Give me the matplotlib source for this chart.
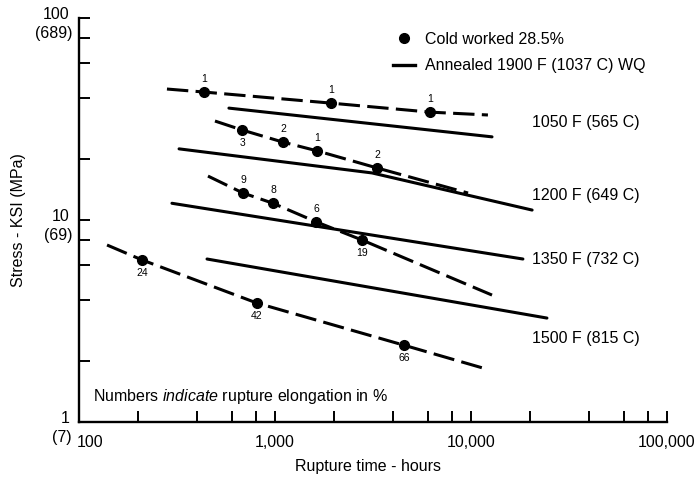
import numpy as np
import matplotlib.pyplot as plt
from matplotlib.lines import Line2D
from matplotlib.ticker import FixedLocator, NullFormatter

plt.rcParams['font.family'] = ['Liberation Sans', 'DejaVu Sans']
plt.rcParams['mathtext.fontset'] = 'custom'
plt.rcParams['mathtext.rm'] = 'Liberation Sans'
plt.rcParams['mathtext.it'] = 'Liberation Sans:italic'

# cold worked 28.5% : test points (hours, ksi, elongation %)
cw1050_hrs = [434, 1930, 6180]
cw1050_ksi = [43.0, 37.9, 34.2]
cw1050_elong = ['1', '1', '1']
cw1050_ends = ([281, 12200], [44.5, 33.1])

cw1200_hrs = [679, 1098, 1638, 3315]
cw1200_ksi = [27.9, 24.3, 22.0, 18.1]
cw1200_elong = ['3', '2', '1', '2']
cw1200_ends = ([494, 9660], [30.9, 13.6])

cw1350_hrs = [687, 977, 1619, 2780]
cw1350_ksi = [13.6, 12.1, 9.8, 7.96]
cw1350_elong = ['9', '8', '6', '19']
cw1350_ends = ([455, 12800], [16.5, 4.25])

cw1500_hrs = [210, 809, 4550]
cw1500_ksi = [6.34, 3.88, 2.40]
cw1500_elong = ['24', '42', '66']
cw1500_ends = ([139, 11500], [7.52, 1.85])

# annealed 1900 F (1037 C) WQ curves
an1050_hrs = [582, 12800]
an1050_ksi = [35.8, 25.8]
an1200_hrs = [324, 3126, 20500]
an1200_ksi = [22.5, 17.1, 11.2]
an1350_hrs = [298, 18400]
an1350_ksi = [12.1, 6.41]
an1500_hrs = [450, 24400]
an1500_ksi = [6.41, 3.27]

temps = ['1050 F (565 C)', '1200 F (649 C)', '1350 F (732 C)', '1500 F (815 C)']
temp_ksi = [30.5, 13.2, 6.34, 2.58]

fs = 11.5

fig = plt.figure(figsize=(7, 4.78), dpi=100)
ax = fig.add_axes([79/700, 1-422/478, 588/700, 404/478])
ax.set_xscale('log')
ax.set_yscale('log')
ax.set_xlim(100, 100000)
ax.set_ylim(1, 100)

lw = 2.2
cw_sets = [
    (cw1050_hrs, cw1050_ksi, cw1050_elong, cw1050_ends, [1, 1, 1]),
    (cw1200_hrs, cw1200_ksi, cw1200_elong, cw1200_ends, [-1, 1, 1, 1]),
    (cw1350_hrs, cw1350_ksi, cw1350_elong, cw1350_ends, [1, 1, 1, -1]),
    (cw1500_hrs, cw1500_ksi, cw1500_elong, cw1500_ends, [-1, -1, -1]),
]
for hrs, ksi, el, ends, side in cw_sets:
    lx = [ends[0][0]] + hrs + [ends[0][1]]
    ly = [ends[1][0]] + ksi + [ends[1][1]]
    ax.plot(lx, ly, color='k', lw=lw, dashes=(7, 2.4), solid_capstyle='butt')
    ax.plot(hrs, ksi, 'o', color='k', ms=7)
    for x, y, t, s in zip(hrs, ksi, el, side):
        ax.annotate(t, (x, y), xytext=(0, 9.5 * s), textcoords='offset points',
                    ha='center', va='center', fontsize=7.5)

for hrs, ksi in [(an1050_hrs, an1050_ksi), (an1200_hrs, an1200_ksi),
                 (an1350_hrs, an1350_ksi), (an1500_hrs, an1500_ksi)]:
    ax.plot(hrs, ksi, color='k', lw=lw, solid_capstyle='round')

for t, y in zip(temps, temp_ksi):
    ax.text(20500, y, t, fontsize=fs, ha='left', va='center')

ax.text(118, 1.34, r'Numbers $\it{indicate}$ rupture elongation in %',
        fontsize=fs, ha='left', va='center')

# axes styling
for s in ['top', 'right']:
    ax.spines[s].set_visible(False)
for s in ['left', 'bottom']:
    ax.spines[s].set_linewidth(1.7)
ax.xaxis.set_major_locator(FixedLocator([100, 1000, 10000, 100000]))
ax.xaxis.set_minor_locator(FixedLocator([m * d for d in [100, 1000, 10000] for m in [2, 4, 6, 8]]))
ax.yaxis.set_major_locator(FixedLocator([1, 10, 100]))
ax.yaxis.set_minor_locator(FixedLocator([m * d for d in [1, 10] for m in [2, 4, 6, 8]]))
ax.xaxis.set_minor_formatter(NullFormatter())
ax.yaxis.set_minor_formatter(NullFormatter())
ax.tick_params(which='both', direction='in', length=8, width=1.4)
ax.set_xticklabels([])
ax.set_yticklabels([])

xt = ax.get_xaxis_transform()
for v, lab, dx in [(100, '100', 8), (1000, '1,000', 0), (10000, '10,000', 0), (100000, '100,000', 0)]:
    ax.annotate(lab, (v, 0), xycoords=xt, xytext=(dx, -15), textcoords='offset points',
                ha='center', va='center', fontsize=fs, annotation_clip=False)

yt = ax.get_yaxis_transform()
for v, top, bot in [(100, '100', '(689)'), (10, '10', '(69)'), (1, '1', '(7)')]:
    ax.annotate(top, (0, v), xycoords=yt, xytext=(-7, 2.5), textcoords='offset points',
                ha='right', va='center', fontsize=fs, annotation_clip=False)
    ax.annotate(bot, (0, v), xycoords=yt, xytext=(-5, -11.5), textcoords='offset points',
                ha='right', va='center', fontsize=fs, annotation_clip=False)

fig.text(19/700, 1-220/478, 'Stress - KSI (MPa)', rotation=90, ha='center', va='center', fontsize=fs)
fig.text(368/700, 1-466/478, 'Rupture time - hours', ha='center', va='center', fontsize=fs)

handles = [Line2D([], [], ls='none', marker='o', color='k', ms=7),
           Line2D([], [], color='k', lw=2.4)]
ax.legend(handles, ['Cold worked 28.5%', 'Annealed 1900 F (1037 C) WQ'],
          loc='upper left', bbox_to_anchor=((393-79)/588, (422-32)/404),
          frameon=False, fontsize=fs, handlelength=1.4, handletextpad=0.6,
          labelspacing=0.7, borderpad=0, borderaxespad=0)

fig.savefig('out.png', dpi=100)
